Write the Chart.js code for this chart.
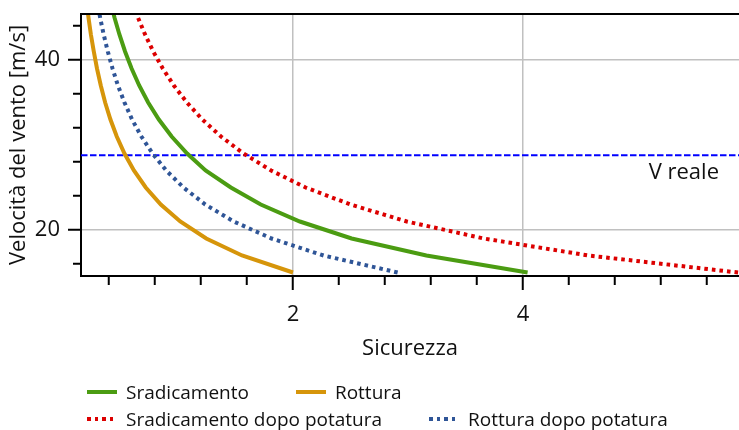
<!DOCTYPE html>
<html lang="it">
<head>
<meta charset="utf-8">
<title>Velocità del vento e sicurezza</title>
<script src="https://cdn.jsdelivr.net/npm/chart.js@4.4.1/dist/chart.umd.min.js"></script>
<style>
    html, body { margin: 0; padding: 0; background: #fff; }
    .graph-chart { position: relative; width: 739px; height: 430px; overflow: hidden; }
    .graph-chart canvas { display: block; }
    .graph-legend {
        position: absolute; left: 87px; top: 378px; width: 640px;
        display: flex; flex-wrap: wrap; column-gap: 47px;
        font: 19px 'Open Sans', sans-serif; color: #111;
    }
    .graph-legend .item { display: flex; align-items: center; height: 27px; white-space: nowrap; }
    .graph-legend .swatch { width: 30px; height: 4px; margin-right: 9px; }
    .graph-legend .swatch.dotted { width: 26px; margin-right: 13px; }
</style>
</head>
<body>
<div class="graph-chart">
    <canvas id="chart" width="739" height="430"></canvas>
    <div class="graph-legend"></div>
</div>
<script>
// values: Sicurezza at each wind speed
const WIND_SPEED = [15, 17, 19, 21, 23, 25, 27, 29, 31, 33, 35, 37, 39, 41, 43, 45, 47];
const SRADICAMENTO = [4.04, 3.16, 2.51, 2.06, 1.72, 1.46, 1.24, 1.08, 0.945, 0.834, 0.741, 0.663, 0.597, 0.540, 0.491, 0.448, 0.411];
const ROTTURA = [2.00, 1.557, 1.246, 1.020, 0.851, 0.720, 0.617, 0.535, 0.468, 0.413, 0.367, 0.329, 0.296, 0.268, 0.243, 0.222, 0.204];
const SRADICAMENTO_POTATURA = [5.87, 4.57, 3.66, 2.99, 2.50, 2.11, 1.81, 1.57, 1.374, 1.212, 1.078, 0.964, 0.868, 0.785, 0.714, 0.652, 0.598];
const ROTTURA_POTATURA = [2.91, 2.266, 1.814, 1.485, 1.238, 1.048, 0.898, 0.779, 0.682, 0.601, 0.535, 0.478, 0.431, 0.390, 0.354, 0.323, 0.297];
const V_REALE = 28.8;

const SERIES_LABELS = ['Sradicamento', 'Rottura', 'Sradicamento dopo potatura', 'Rottura dopo potatura'];
const SERIES_VALUES = [SRADICAMENTO, ROTTURA, SRADICAMENTO_POTATURA, ROTTURA_POTATURA];

const X_RANGE = [0.157, 5.878];
const Y_RANGE = [14.59, 45.41];
const X_TICK_LABELS = [2, 4];
const Y_TICK_LABELS = [20, 40];

((Chart) => {
    'use strict';

    const TEXT = '#111';
    const FONT = "'Open Sans', sans-serif";
    const SERIES_STYLE = [
        {color: '#4b9c12', dotted: false},
        {color: '#d6950a', dotted: false},
        {color: '#dc0000', dotted: true},
        {color: '#2f5597', dotted: true}
    ];

    Chart.defaults.font.family = FONT;
    Chart.defaults.color = TEXT;

    const isMajor = (value, majors) => majors.some((m) => Math.abs(m - value) < 1e-6);

    // top frame line + the "V reale" note next to its dashed line
    const frameAndNotes = {
        id: 'frameAndNotes',
        afterDraw(chart) {
            const {ctx, chartArea, scales} = chart;
            ctx.save();
            ctx.strokeStyle = '#000';
            ctx.lineWidth = 2;
            ctx.beginPath();
            ctx.moveTo(chartArea.left - 1, chartArea.top);
            ctx.lineTo(chartArea.right, chartArea.top);
            ctx.stroke();

            ctx.font = '22px ' + FONT;
            ctx.fillStyle = TEXT;
            ctx.textAlign = 'right';
            ctx.textBaseline = 'middle';
            ctx.fillText('V reale', chartArea.right - 20, scales.y.getPixelForValue(V_REALE) + 18);
            ctx.restore();
        }
    };

    class ChartWind {

        constructor() {
            this.canvas = document.getElementById('chart');
            this.legend = document.querySelector('.graph-legend');
        }

        render() {

            const datasets = SERIES_LABELS.map((label, i) => ({
                label: label,
                data: WIND_SPEED.map((v, j) => ({x: SERIES_VALUES[i][j], y: v})),
                borderColor: SERIES_STYLE[i].color,
                backgroundColor: SERIES_STYLE[i].color,
                borderWidth: 4,
                borderDash: SERIES_STYLE[i].dotted ? [3.6, 4] : [],
                pointRadius: 0,
                tension: 0,
                fill: false
            }));

            datasets.push({
                label: 'V reale',
                data: [{x: X_RANGE[0], y: V_REALE}, {x: X_RANGE[1], y: V_REALE}],
                borderColor: '#0000ff',
                borderWidth: 2,
                borderDash: [6.5, 2.5],
                pointRadius: 0,
                fill: false,
                hideInLegend: true
            });

            this.chart = new Chart(this.canvas.getContext('2d'), {
                type: 'line',
                data: {datasets: datasets},
                options: {
                    responsive: false,
                    animation: false,
                    devicePixelRatio: 1,
                    layout: {padding: {top: 14, right: 0, bottom: 58, left: 0}},
                    plugins: {legend: {display: false}, tooltip: {enabled: false}},
                    scales: {
                        x: {
                            type: 'linear',
                            min: X_RANGE[0],
                            max: X_RANGE[1],
                            border: {color: '#000', width: 2},
                            grid: {
                                color: (c) => c.tick && isMajor(c.tick.value, X_TICK_LABELS) ? '#c0c0c0' : 'rgba(0,0,0,0)',
                                lineWidth: 1.5,
                                tickColor: '#000',
                                tickWidth: 2,
                                tickLength: 14,
                                tickBorderDash: (c) => c.tick && isMajor(c.tick.value, X_TICK_LABELS) ? [] : [8, 100]
                            },
                            ticks: {
                                stepSize: 0.4,
                                autoSkip: false,
                                includeBounds: false,
                                maxRotation: 0,
                                padding: 12,
                                font: {size: 22},
                                callback: (v) => isMajor(v, X_TICK_LABELS) ? String(Math.round(v)) : ''
                            },
                            title: {
                                display: true,
                                text: 'Sicurezza',
                                font: {size: 22},
                                padding: {top: 0, bottom: 10}
                            },
                            afterFit: (scale) => {
                                scale.height = 96;
                                scale.paddingLeft = 0;
                                scale.paddingRight = 0;
                            }
                        },
                        y: {
                            type: 'linear',
                            min: Y_RANGE[0],
                            max: Y_RANGE[1],
                            border: {color: '#000', width: 2},
                            grid: {
                                color: (c) => c.tick && isMajor(c.tick.value, Y_TICK_LABELS) ? '#c0c0c0' : 'rgba(0,0,0,0)',
                                lineWidth: 1.5,
                                tickColor: '#000',
                                tickWidth: 2,
                                tickLength: 13,
                                tickBorderDash: (c) => c.tick && isMajor(c.tick.value, Y_TICK_LABELS) ? [] : [0, 5, 8, 100]
                            },
                            ticks: {
                                stepSize: 4,
                                autoSkip: false,
                                includeBounds: false,
                                padding: 8,
                                font: {size: 22},
                                callback: (v) => isMajor(v, Y_TICK_LABELS) ? String(Math.round(v)) : ''
                            },
                            title: {
                                display: true,
                                text: 'Velocità del vento [m/s]',
                                font: {size: 22},
                                padding: {top: 6, bottom: 0}
                            },
                            afterFit: (scale) => {
                                scale.width = 81;
                                scale.paddingTop = 0;
                                scale.paddingBottom = 0;
                            }
                        }
                    }
                },
                plugins: [frameAndNotes]
            });

            this.renderLegend();
        }

        renderLegend() {
            this.legend.innerHTML = '';

            this.chart.data.datasets.filter((ds) => !ds.hideInLegend).forEach((ds) => {
                const item = document.createElement('div');
                const swatch = document.createElement('span');
                const label = document.createElement('span');

                item.className = 'item';
                swatch.className = 'swatch';
                if (ds.borderDash.length) {
                    swatch.classList.add('dotted');
                    swatch.style.background = 'repeating-linear-gradient(90deg, ' + ds.borderColor +
                        ' 0 3.6px, transparent 3.6px 7.6px)';
                } else {
                    swatch.style.background = ds.borderColor;
                }
                label.textContent = ds.label;

                item.append(swatch, label);
                this.legend.append(item);
            });
        }
    }

    new ChartWind().render();

})(Chart);
</script>
</body>
</html>
